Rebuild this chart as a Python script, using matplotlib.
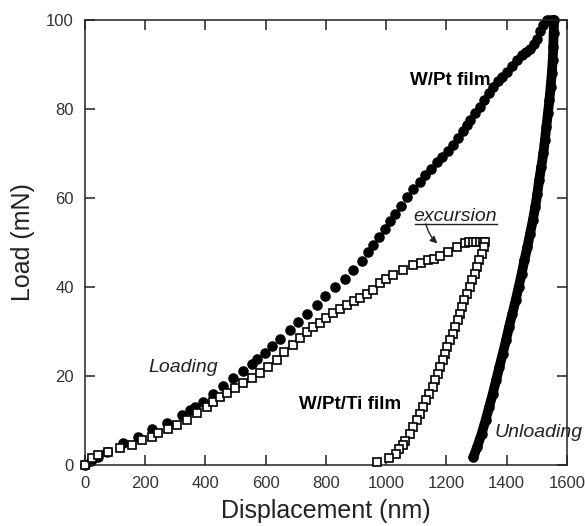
import matplotlib
matplotlib.use("Agg")
import matplotlib.pyplot as plt
from matplotlib.lines import Line2D

plt.rcParams['font.family'] = ['Liberation Sans', 'DejaVu Sans']

# W/Pt film, loading (filled circles)
wpt_load_d = [0, 20, 45, 75, 126, 176, 222, 272, 322, 349, 365, 392, 425, 458, 491,
              525, 554, 571, 598, 620, 647, 680, 707, 737, 770, 797, 830, 863, 890, 919,
              940, 956, 975, 995, 1012, 1030, 1050, 1069, 1090, 1112, 1130, 1150, 1168,
              1185, 1205, 1222, 1240, 1255, 1268, 1280, 1295, 1311, 1325, 1340, 1355,
              1370, 1385, 1401, 1418, 1434, 1450, 1465, 1477, 1490, 1500, 1510, 1520,
              1533, 1545, 1555]
wpt_load_L = [0, 0.8, 1.8, 3.0, 4.9, 6.3, 8.1, 9.4, 11.3, 12.4, 13.0, 14.2, 15.9, 17.8,
              19.5, 21.2, 22.8, 23.9, 25.2, 26.7, 28.4, 30.4, 32.2, 34.0, 36.0, 37.9, 40.0,
              41.9, 43.8, 45.8, 47.8, 49.5, 51.2, 53.0, 54.8, 56.5, 58.3, 60.2, 62.0, 63.6,
              65.2, 66.6, 68.0, 69.3, 70.5, 71.8, 73.5, 75.0, 76.3, 77.6, 79.0, 80.5, 82.0,
              83.5, 85.0, 86.2, 87.2, 88.2, 89.6, 91.0, 92.2, 92.8, 93.4, 94.6, 95.8, 97.5,
              98.8, 100, 100, 100]

# W/Pt film, unloading
wpt_unload_d = [1558, 1556, 1555, 1553, 1550, 1546, 1542, 1537, 1532, 1527, 1522, 1515,
                1508, 1502, 1495, 1487, 1478, 1469, 1459, 1450, 1440, 1430, 1419, 1408,
                1398, 1387, 1376, 1365, 1354, 1342, 1330, 1317, 1302, 1290]
wpt_unload_L = [100, 97, 94, 91, 88, 85, 82, 79, 76, 73, 70, 67, 64, 61, 58, 55, 52, 49,
                46, 43, 40, 37, 34, 31, 28, 25, 22, 19, 16, 13, 10, 7, 4, 1.8]

# W/Pt/Ti film, loading (open squares)
wti_load_d = [0, 23, 43, 76, 116, 156, 189, 222, 242, 276, 305, 338, 372, 405, 425, 448,
              471, 498, 525, 554, 581, 608, 637, 662, 690, 714, 737, 758, 780, 802, 823,
              847, 870, 892, 913, 935, 956, 979, 1000, 1023, 1056, 1089, 1115, 1139, 1160,
              1178, 1205, 1235, 1261, 1275, 1288, 1300, 1311, 1320, 1328]
wti_load_L = [0, 1.6, 2.2, 2.9, 3.8, 4.5, 5.6, 6.3, 7.2, 8.1, 9.0, 10.1, 11.7, 13.0, 14.2,
              15.3, 16.2, 17.3, 18.4, 19.6, 20.7, 22.0, 23.5, 25.3, 27.0, 28.5, 29.9, 30.9,
              31.9, 33.1, 34.2, 35.1, 36.0, 36.8, 37.5, 38.4, 39.3, 40.8, 41.8, 42.7, 43.8,
              44.9, 45.4, 46.0, 46.4, 46.9, 47.9, 49.0, 49.9, 50, 50, 50, 50, 50, 50]

# W/Pt/Ti film, unloading
wti_unload_d = [1326, 1318, 1309, 1301, 1294, 1286, 1278, 1269, 1259, 1251, 1244, 1238,
                1230, 1221, 1212, 1203, 1195, 1188, 1180, 1172, 1163, 1155, 1144, 1133,
                1122, 1112, 1102, 1090, 1078, 1064, 1056, 1044, 1032, 1010, 969]
wti_unload_L = [49, 47.5, 46, 44.5, 43, 41.5, 40, 38.5, 37, 35.5, 34, 32.5, 31, 29.5, 28,
                26.5, 25, 23.5, 22, 20.5, 19, 17.5, 16, 14.5, 13, 11.5, 10, 8.5, 7, 5.5,
                4.5, 3.5, 2.5, 1.6, 0.7]

x_ticks = [0, 200, 400, 600, 800, 1000, 1200, 1400, 1600]
y_ticks = [0, 20, 40, 60, 80, 100]

fig = plt.figure(figsize=(5.85, 5.26), dpi=100)
ax = fig.add_axes([0.145, 0.116, 0.824, 0.846])

# filled W/Pt curve
ax.plot(wpt_load_d, wpt_load_L, 'o', color='black', ms=7.6, mew=0, clip_on=False, zorder=2)
ax.plot(wpt_unload_d, wpt_unload_L, '-o', color='black', ms=7.6, mew=0, lw=7,
        solid_capstyle='round', clip_on=False, zorder=2)

# open W/Pt/Ti curve
ax.plot(wti_load_d, wti_load_L, 's', mfc='white', mec='black', ms=6.3, mew=1.2,
        clip_on=False, zorder=3)
ax.plot(wti_unload_d, wti_unload_L, 's', mfc='white', mec='black', ms=6.3, mew=1.2,
        clip_on=False, zorder=3)

ax.set_xlim(0, 1600)
ax.set_ylim(0, 100)
ax.set_xticks(x_ticks)
ax.set_yticks(y_ticks)
ax.tick_params(direction='in', top=True, right=True, length=7, width=1.1,
               labelsize=12, pad=8, labelcolor='#333333', color='#222222')
for s in ax.spines.values():
    s.set_linewidth(1.1)
    s.set_color('#222222')

ax.set_xlabel('Displacement (nm)', fontsize=18, color='#222222', labelpad=6)
ax.set_ylabel('Load (mN)', fontsize=18, color='#222222', labelpad=8)

# annotations
ax.text(1212, 86.5, 'W/Pt film', fontsize=13.5, fontweight='bold', ha='center', va='center')
ax.text(880, 13.5, 'W/Pt/Ti film', fontsize=13.5, fontweight='bold', ha='center', va='center')
ax.text(325, 22.0, 'Loading', fontsize=14, style='italic', color='#222222',
        ha='center', va='center')
ax.text(1361, 7.4, 'Unloading', fontsize=14, style='italic', color='#222222',
        ha='left', va='center', clip_on=False)
exc = ax.text(1228, 55.8, 'excursion', fontsize=14, style='italic', color='#222222',
              ha='center', va='center')
ax.annotate('', xy=(1170, 49.8), xytext=(1132, 54.2),
            arrowprops=dict(arrowstyle='-|>', color='#222222', lw=1.0,
                            mutation_scale=10, shrinkA=0, shrinkB=0,
                            connectionstyle='arc3,rad=0.15'))

# underline under "excursion"
fig.canvas.draw()
bb = exc.get_window_extent().transformed(fig.transFigure.inverted())
fig.add_artist(Line2D([bb.x0 + 0.003, bb.x1], [bb.y0 + 0.002, bb.y0 + 0.002],
                      transform=fig.transFigure, color='#222222', lw=1.0))

fig.savefig('out.png', dpi=100)
